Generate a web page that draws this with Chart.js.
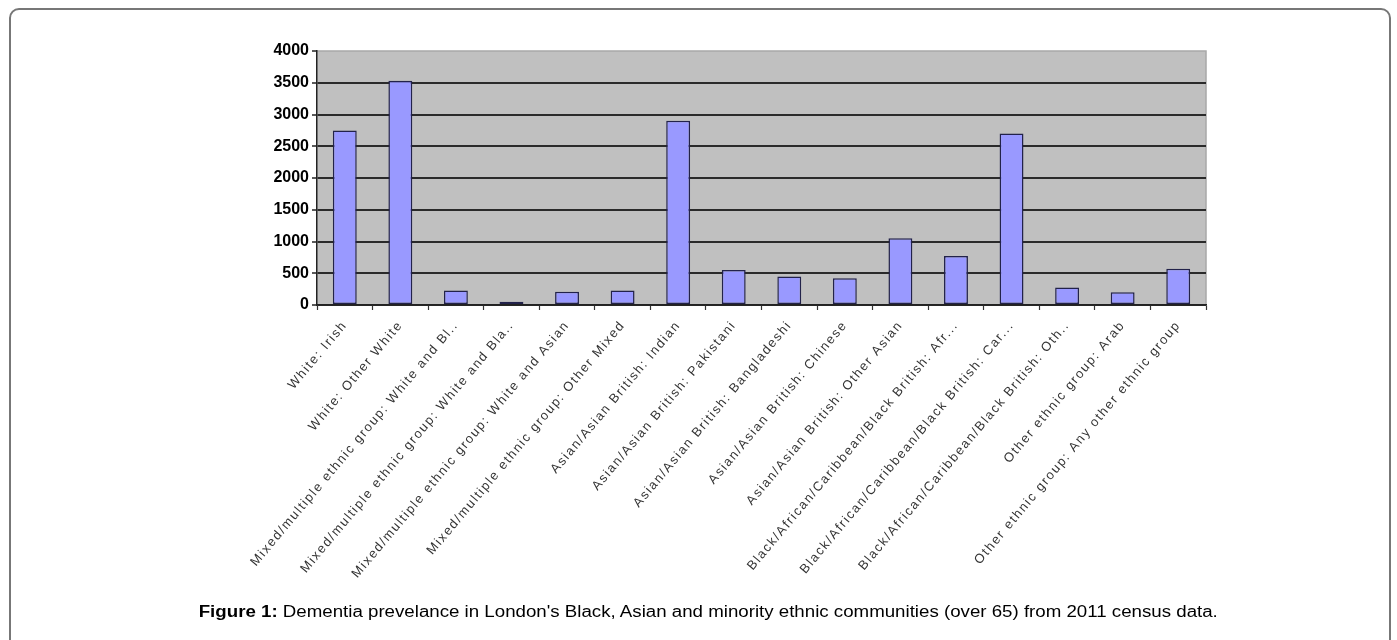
<!DOCTYPE html>
<html>
<head>
<meta charset="utf-8">
<script src="https://cdn.jsdelivr.net/npm/chart.js@4.4.1/dist/chart.umd.min.js"></script>
<style>
  body { margin: 0; background: #fff; }
  #frame { position: absolute; left: 9px; top: 8px; width: 1378px; height: 680px;
           border: 2px solid #777; border-radius: 10px; }
  #c { position: absolute; left: 0; top: 0; }
  #caption { position: absolute; left: 0; width: 1417px; top: 603px; text-align: center;
             font: 16px Arial, "Liberation Sans", sans-serif; color: #000; }
  #caption span { display: inline-block; transform: scaleX(1.168); white-space: nowrap; }
</style>
</head>
<body>
<div id="frame"></div>
<canvas id="c" width="1397" height="640"></canvas>
<div id="caption"><span><b>Figure 1:</b> Dementia prevelance in London's Black, Asian and minority ethnic communities (over 65) from 2011 census data.</span></div>
<script>
const categories = [
    "White: Irish",
    "White: Other White",
    "Mixed/multiple ethnic group: White and Bl..",
    "Mixed/multiple ethnic group: White and Bla..",
    "Mixed/multiple ethnic group: White and Asian",
    "Mixed/multiple ethnic group: Other Mixed",
    "Asian/Asian British: Indian",
    "Asian/Asian British: Pakistani",
    "Asian/Asian British: Bangladeshi",
    "Asian/Asian British: Chinese",
    "Asian/Asian British: Other Asian",
    "Black/African/Caribbean/Black British: Afr...",
    "Black/African/Caribbean/Black British: Car...",
    "Black/African/Caribbean/Black British: Oth..",
    "Other ethnic group: Arab",
    "Other ethnic group: Any other ethnic group"
];
const values = [2750, 3530, 230, 50, 210, 230, 2900, 550, 450, 420, 1050, 770, 2700, 275, 200, 570];
const yTicks = [0, 500, 1000, 1500, 2000, 2500, 3000, 3500, 4000];

// grey plot background like the old Excel chart
const plotBg = {
    id: 'plotBg',
    beforeDraw(chart) {
        const { ctx, chartArea: a } = chart;
        ctx.save();
        ctx.fillStyle = '#c0c0c0';
        ctx.fillRect(a.left, a.top, a.right - a.left, a.bottom - a.top);
        ctx.strokeStyle = '#a8a8a8';
        ctx.lineWidth = 1.5;
        ctx.beginPath();
        ctx.moveTo(a.left, a.top); ctx.lineTo(a.right, a.top); ctx.lineTo(a.right, a.bottom);
        ctx.stroke();
        ctx.restore();
    },
    // x labels are drawn after the bars (ticks.z = 1), give them the wide spacing of the original
    afterDatasetsDraw(chart) { chart.ctx.letterSpacing = '1.6px'; },
    afterDraw(chart) { chart.ctx.letterSpacing = '0px'; }
};

new Chart(document.getElementById('c').getContext('2d'), {
    type: 'bar',
    data: {
        labels: categories,
        datasets: [{
            data: values,
            backgroundColor: '#9999ff',
            borderColor: '#22224a',
            borderWidth: 1.5,
            borderSkipped: false,
            categoryPercentage: 1,
            barPercentage: 0.43
        }]
    },
    options: {
        responsive: false,
        animation: false,
        layout: { padding: { left: 0, top: 51, right: 191, bottom: 0 } },
        plugins: { legend: { display: false }, tooltip: { enabled: false } },
        scales: {
            y: {
                min: 0, max: 4000,
                afterBuildTicks: s => { s.ticks = yTicks.map(v => ({ value: v })); },
                afterFit: s => { s.width = 317; },
                ticks: {
                    color: '#000', padding: 3, callback: v => String(v),
                    font: { family: 'Arial', size: 16, weight: 'bold' }
                },
                grid: {
                    color: c => c.tick && c.tick.value === 4000 ? 'rgba(0,0,0,0)' : '#2a2a2a',
                    lineWidth: 2, tickLength: 5, tickColor: '#222', tickWidth: 1.5
                },
                border: { color: '#222', width: 1.5 }
            },
            x: {
                afterFit: s => { s.height = 335; },
                ticks: {
                    color: '#333', autoSkip: false, maxRotation: 50, minRotation: 50, padding: 8, z: 1,
                    font: { family: 'Arial', size: 13 }
                },
                grid: { drawOnChartArea: false, tickLength: 5, tickColor: '#333', tickWidth: 1.2 },
                border: { color: '#222', width: 1.5 }
            }
        }
    },
    plugins: [plotBg]
});
</script>
</body>
</html>
